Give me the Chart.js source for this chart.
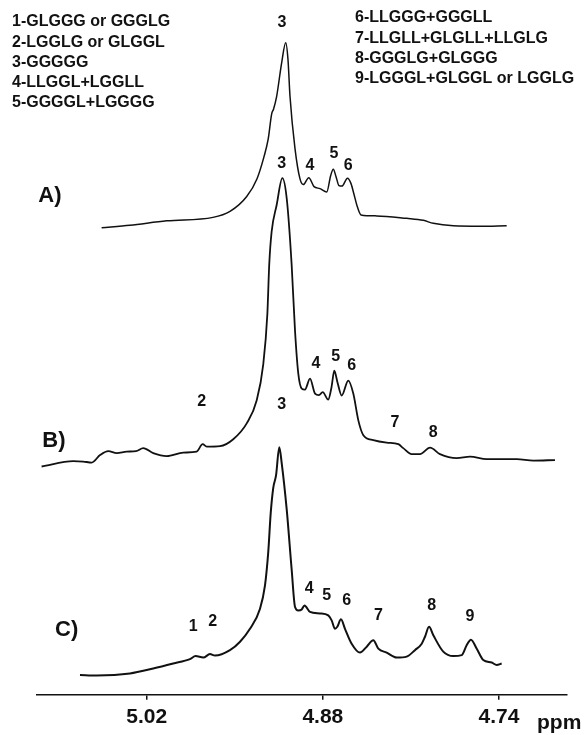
<!DOCTYPE html>
<html>
<head>
<meta charset="utf-8">
<script src="https://cdn.jsdelivr.net/npm/chart.js@4"></script>
<style>
  html, body { margin: 0; padding: 0; background: #fff; }
  canvas { display: block; }
</style>
</head>
<body>
<canvas id="nmr" width="588" height="735"></canvas>
<script>
// Chemical shift (ppm) and intensity above each trace's own baseline (arbitrary units)
const ppmA = [5.0558, 5.0333, 5.0041, 4.9673, 4.9538, 4.9405, 4.9323, 4.9268, 4.9234, 4.9207, 4.9192, 4.9167, 4.9127, 4.9095, 4.9077, 4.9061, 4.9021, 4.8982, 4.8955, 4.8912, 4.8870, 4.8823, 4.8769, 4.8738, 4.8717, 4.8695, 4.8672, 4.8648, 4.8604, 4.8576, 4.8552, 4.8529, 4.8497, 4.8372, 4.8134, 4.8002, 4.7922, 4.7763, 4.7551, 4.7339];
const intA = [-0.3, 0.2, 1.1, 1.8, 3.0, 6.0, 9.6, 14.0, 17.6, 22.6, 23.6, 26.2, 33.0, 37.0, 33.6, 26.2, 15.6, 9.6, 8.4, 9.8, 8.0, 7.6, 6.9, 10.2, 11.5, 10.0, 8.2, 8.1, 9.7, 8.6, 6.4, 4.2, 2.3, 2.1, 1.6, 1.2, 0.6, 0.1, 0.0, 0.1];

const ppmB = [5.1035, 5.0783, 5.0704, 5.0637, 5.0571, 5.0505, 5.0438, 5.0359, 5.0285, 5.0227, 5.0148, 5.0041, 4.9909, 4.9803, 4.9755, 4.9723, 4.9617, 4.9512, 4.9405, 4.9326, 4.9273, 4.9241, 4.9226, 4.9207, 4.9167, 4.9122, 4.9087, 4.9048, 4.9021, 4.8995, 4.8968, 4.8942, 4.8902, 4.8862, 4.8831, 4.8801, 4.8757, 4.8731, 4.8709, 4.8684, 4.8650, 4.8598, 4.8558, 4.8518, 4.8478, 4.8399, 4.8293, 4.8200, 4.8161, 4.8094, 4.8028, 4.7948, 4.7869, 4.7736, 4.7630, 4.7498, 4.7259, 4.7127, 4.6955];
const intB = [-1.2, -0.1, -0.2, -0.4, 1.1, 1.9, 1.5, 1.8, 1.9, 2.5, 1.5, 0.9, 1.6, 1.8, 3.3, 2.8, 2.9, 4.3, 7.5, 12.1, 19.5, 29.5, 39.5, 46.1, 51.5, 56.9, 52.8, 39.5, 26.1, 17.5, 14.5, 14.3, 16.5, 13.5, 13.2, 13.8, 12.3, 14.8, 18.1, 15.8, 13.1, 16.1, 13.5, 8.1, 5.1, 4.1, 3.6, 3.3, 2.5, 1.3, 1.3, 2.6, 1.3, 0.5, 0.8, 0.3, 0.3, 0.0, 0.1];

const ppmC = [5.0730, 5.0597, 5.0333, 5.0148, 4.9989, 4.9856, 4.9811, 4.9750, 4.9697, 4.9657, 4.9538, 4.9458, 4.9379, 4.9300, 4.9260, 4.9234, 4.9214, 4.9194, 4.9172, 4.9146, 4.9127, 4.9087, 4.9048, 4.9021, 4.8995, 4.8968, 4.8946, 4.8902, 4.8823, 4.8757, 4.8730, 4.8703, 4.8685, 4.8656, 4.8624, 4.8571, 4.8505, 4.8451, 4.8399, 4.8359, 4.8293, 4.8213, 4.8134, 4.8068, 4.8014, 4.7988, 4.7956, 4.7922, 4.7843, 4.7763, 4.7696, 4.7657, 4.7623, 4.7577, 4.7525, 4.7458, 4.7418, 4.7379];
const intC = [0.0, -0.1, 0.3, 1.3, 2.3, 3.2, 3.8, 3.5, 4.2, 3.9, 5.0, 6.7, 9.3, 13.3, 18.0, 24.7, 32.7, 37.7, 40.2, 45.9, 42.7, 33.3, 21.3, 13.7, 13.0, 13.2, 14.0, 12.7, 12.4, 12.0, 11.0, 9.3, 9.7, 11.2, 9.3, 6.3, 4.5, 5.7, 7.0, 5.3, 4.5, 3.5, 3.7, 5.0, 6.3, 7.7, 9.7, 8.0, 4.7, 3.8, 4.0, 6.0, 7.1, 5.3, 3.0, 2.5, 2.0, 2.3];

const tickPpm = [5.02, 4.88, 4.74];

// peak labels: [text, ppm, intensity] per trace
const peaksA = [['3', 4.9125, 41.0], ['4', 4.8902, 12.3], ['5', 4.8711, 14.6], ['6', 4.8598, 12.3]];
const peaksB = [['2', 4.9763, 11.8], ['3', 4.9127, 59.8], ['4', 4.8854, 19.6], ['5', 4.8698, 20.9], ['6', 4.8571, 19.1], ['7', 4.8227, 7.6], ['8', 4.7922, 5.6]];
const peaksC = [['1', 4.9830, 9.7], ['2', 4.9675, 10.7], ['3', 4.9127, 54.4], ['4', 4.8908, 17.5], ['5', 4.8769, 15.9], ['6', 4.8610, 15.0], ['7', 4.8359, 11.9], ['8', 4.7935, 14.0], ['9', 4.7631, 11.7]];
const traceNames = [['A)', 5.0969, 6.2, 'yA'], ['B)', 5.0937, 4.0, 'yB'], ['C)', 5.0836, 9.0, 'yC']];

const keyLeft = ['1-GLGGG or GGGLG', '2-LGGLG or GLGGL', '3-GGGGG', '4-LLGGL+LGGLL', '5-GGGGL+LGGGG'];
const keyRight = ['6-LLGGG+GGGLL', '7-LLGLL+GLGLL+LLGLG', '8-GGGLG+GLGGG', '9-LGGGL+GLGGL or LGGLG'];

const toPoints = (xs, ys) => xs.map((x, i) => ({ x: x, y: ys[i] }));
const FONT = '"Liberation Sans", Arial, sans-serif';

const textPlugin = {
    id: 'spectrumText',
    afterDraw(chart) {
        const ctx = chart.ctx;
        const xs = chart.scales.x;
        ctx.save();
        ctx.fillStyle = '#111';
        ctx.textAlign = 'center';
        ctx.textBaseline = 'middle';

        ctx.font = 'bold 16px ' + FONT;
        [[peaksA, 'yA'], [peaksB, 'yB'], [peaksC, 'yC']].forEach(([peaks, axis]) => {
            peaks.forEach(([t, p, v]) => {
                ctx.fillText(t, xs.getPixelForValue(p), chart.scales[axis].getPixelForValue(v));
            });
        });

        ctx.font = 'bold 22px ' + FONT;
        traceNames.forEach(([t, p, v, axis]) => {
            ctx.fillText(t, xs.getPixelForValue(p), chart.scales[axis].getPixelForValue(v));
        });

        // key at top
        ctx.textAlign = 'left';
        ctx.font = 'bold 16px ' + FONT;
        keyLeft.forEach((s, i) => ctx.fillText(s, 12, 22 + i * 20.2));
        keyRight.forEach((s, i) => ctx.fillText(s, 355, 18 + i * 20.2));

        // unit after last tick label
        ctx.font = 'bold 21px ' + FONT;
        ctx.fillText('ppm', 537, 723);
        ctx.restore();
    }
};

const lineStyle = (w) => ({
    borderColor: '#111',
    borderWidth: w,
    pointRadius: 0,
    fill: false,
    cubicInterpolationMode: 'monotone'
});

new Chart(document.getElementById('nmr'), {
    type: 'line',
    data: {
        datasets: [
            Object.assign({ label: 'A', data: toPoints(ppmA, intA), yAxisID: 'yA' }, lineStyle(1.5)),
            Object.assign({ label: 'B', data: toPoints(ppmB, intB), yAxisID: 'yB' }, lineStyle(1.8)),
            Object.assign({ label: 'C', data: toPoints(ppmC, intC), yAxisID: 'yC' }, lineStyle(2))
        ]
    },
    options: {
        responsive: false,
        animation: false,
        layout: { padding: { left: 36.7, right: 21.3, top: 0, bottom: 0 } },
        plugins: { legend: { display: false }, tooltip: { enabled: false } },
        scales: {
            x: {
                type: 'linear',
                reverse: true,
                min: 4.6862,
                max: 5.1074,
                afterBuildTicks: (axis) => { axis.ticks = tickPpm.map(v => ({ value: v })); },
                ticks: {
                    color: '#111',
                    padding: 5,
                    font: { family: FONT, size: 21, weight: 'bold' },
                    callback: (v) => v.toFixed(2)
                },
                grid: { drawOnChartArea: false, drawTicks: true, tickLength: 5, color: '#111', lineWidth: 1.5 },
                border: { display: true, color: '#111', width: 1.5 }
            },
            yA: { display: false, min: -94.4, max: 45.6 },
            yB: { display: false, min: -47.2, max: 92.8 },
            yC: { display: false, min: -4, max: 136 }
        }
    },
    plugins: [textPlugin]
});
</script>
</body>
</html>
